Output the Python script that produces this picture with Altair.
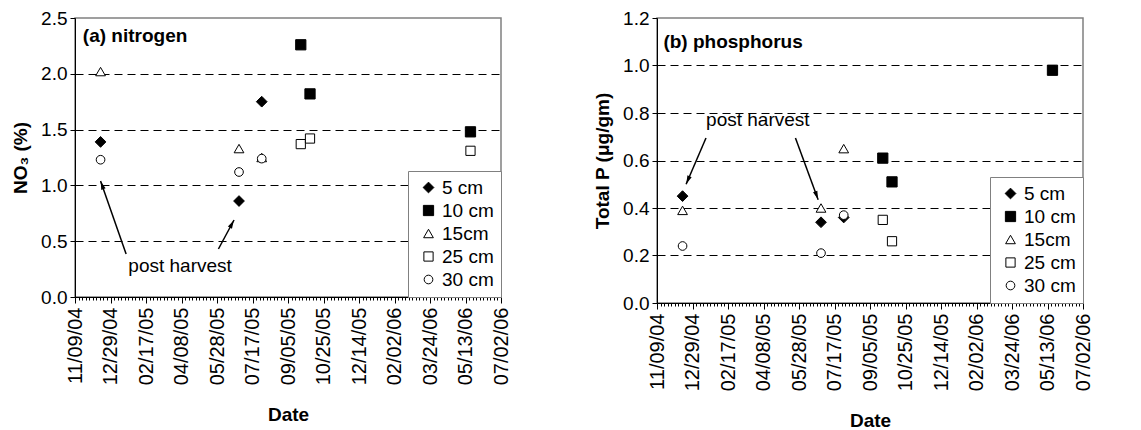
import math
import altair as alt
import pandas as pd

# ---------------- data ----------------
dates = ["2004-12-15", "2005-06-28", "2005-07-30", "2005-09-23", "2005-10-06", "2006-05-20"]
depths = ["5 cm", "10 cm", "15cm", "25 cm", "30 cm"]

n_5 = [1.39, 0.86, 1.75, None, None, None]
n_10 = [None, None, None, 2.26, 1.82, 1.48]
n_15 = [2.02, 1.33, 1.25, None, None, None]
n_25 = [None, None, None, 1.37, 1.42, 1.31]
n_30 = [1.23, 1.12, 1.24, None, None, None]

p_5 = [0.45, 0.34, 0.36, None, None, None]
p_10 = [None, None, None, 0.61, 0.51, 0.98]
p_15 = [0.39, 0.40, 0.65, None, None, None]
p_25 = [None, None, None, 0.35, 0.26, None]
p_30 = [0.24, 0.21, 0.37, None, None, None]

# annotations: text positions and arrows (start -> tip)
n_label = ("2004-11-20", 2.34, "(a) nitrogen")
n_note = ("2005-04-06", 0.28, "post harvest")
n_arrows = [("2005-01-20", 0.385, "2004-12-15", 1.04),
            ("2005-05-30", 0.43, "2005-06-21", 0.69)]
p_label = ("2004-11-18", 1.10, "(b) phosphorus")
p_note = ("2005-03-31", 0.772, "post harvest")
p_arrows = [("2005-01-17", 0.695, "2004-12-20", 0.50),
            ("2005-05-23", 0.695, "2005-06-24", 0.435)]

x_start = "2004-11-09"
x_end = "2006-07-02"
FONT = "Liberation Sans"
FS = 19
W = 426

start = pd.Timestamp(x_start)
end = pd.Timestamp(x_end)
n_days = (end - start).days
S_MS = int(start.value // 10**6)
major_vals = [S_MS + k * 50 * 86400000 for k in range(n_days // 50 + 1)]
minor_vals = [S_MS + k * 5 * 86400000 for k in range(n_days // 5 + 1)]
X_DOMAIN = [x_start + "T00:00:00Z", x_end + "T00:00:00Z"]


def long_df(series):
    rows = []
    for name, vals in zip(depths, series):
        for d, v in zip(dates, vals):
            if v is not None:
                rows.append({"date": d, "value": v, "depth": name})
    return pd.DataFrame(rows)


def legend():
    return alt.Legend(
        title=None,
        orient="bottom-right",
        offset=0,
        fillColor="white",
        strokeColor="#808080",
        padding=7,
        labelFontSize=FS,
        labelFont=FONT,
        labelColor="black",
        symbolStrokeWidth=1,
        rowPadding=3,
        labelOffset=4,
        symbolOffset=4,
    )


def panel(series, ytitle, ymax, ystep, height, label, note, arrows):
    df = long_df(series)
    pxd = W / n_days
    pxv = height / ymax

    xenc = alt.X(
        "date:T",
        title="Date",
        scale=alt.Scale(type="utc", domain=X_DOMAIN),
        axis=alt.Axis(
            values=major_vals,
            format="%m/%d/%y",
            labelAngle=-90,
            labelOverlap=False,
            labelFontSize=20,
            labelPadding=4,
            tickSize=6,
            grid=False,
            titlePadding=21,
            orient="bottom",
        ),
    )
    yenc = alt.Y(
        "value:Q",
        title=ytitle,
        scale=alt.Scale(domain=[0, ymax], nice=False),
        axis=alt.Axis(
            values=[round(i * ystep, 2) for i in range(int(round(ymax / ystep)) + 1)],
            format=".1f",
            grid=True,
            gridColor="black",
            gridDash=[8, 5],
            gridWidth=1,
            gridOpacity={"condition": {"test": f"datum.value >= {ymax} || datum.value == 0", "value": 0}, "value": 1},
            tickSize=5,
            labelPadding=3,
            titlePadding=10,
        ),
    )

    pts = alt.Chart(df).mark_point(filled=True, strokeWidth=1, opacity=1).encode(
        x=xenc,
        y=yenc,
        shape=alt.Shape(
            "depth:N",
            sort=depths,
            scale=alt.Scale(domain=depths, range=["diamond", "square", "triangle-up", "square", "circle"]),
            legend=legend(),
        ),
        fill=alt.Fill(
            "depth:N",
            sort=depths,
            scale=alt.Scale(domain=depths, range=["black", "black", "white", "white", "white"]),
            legend=legend(),
        ),
        stroke=alt.Stroke(
            "depth:N",
            sort=depths,
            scale=alt.Scale(domain=depths, range=["black"] * 5),
            legend=legend(),
        ),
        size=alt.Size(
            "depth:N",
            sort=depths,
            scale=alt.Scale(domain=depths, range=[115, 75, 90, 75, 58]),
            legend=legend(),
        ),
    )

    # arrows
    rows, heads = [], []
    for d0, v0, d1, v1 in arrows:
        t0, t1 = pd.Timestamp(d0), pd.Timestamp(d1)
        dx = (t1 - t0).total_seconds() / 86400 * pxd
        dy = -(v1 - v0) * pxv
        ang = math.degrees(math.atan2(dx, -dy)) % 360
        L = math.hypot(dx, dy)
        back = 4.5
        hx = -dx / L * back
        hy = -dy / L * back
        hdate = t1 + pd.Timedelta(days=hx / pxd)
        hval = v1 - hy / pxv
        rows.append({"date": d0, "value": v0, "date2": d1, "value2": v1})
        heads.append({"date": hdate.strftime("%Y-%m-%dT%H:%M:%S"), "value": hval, "angle": ang})
    rules = alt.Chart(pd.DataFrame(rows)).mark_rule(color="black", strokeWidth=1.5).encode(
        x=alt.X(
            "date:T",
            scale=alt.Scale(type="utc", domain=X_DOMAIN),
            axis=alt.Axis(
                values=minor_vals,
                labels=False,
                domain=False,
                grid=False,
                tickSize=3,
                title=None,
                orient="bottom",
            ),
        ),
        x2="date2:T",
        y="value:Q",
        y2="value2:Q",
    )
    arrowheads = alt.Chart(pd.DataFrame(heads)).mark_point(
        shape="M0,-1L0.55,1L-0.55,1Z", filled=True, color="black", size=70, opacity=1
    ).encode(
        x=alt.X("date:T", axis=None),
        y="value:Q",
        angle=alt.Angle("angle:Q", scale=None),
    )

    note_df = pd.DataFrame([{"date": note[0], "value": note[1], "text": note[2]}])
    note_txt = alt.Chart(note_df).mark_text(fontSize=FS, font=FONT, color="black").encode(
        x=alt.X("date:T", axis=None), y="value:Q", text="text:N"
    )
    lab_df = pd.DataFrame([{"date": label[0], "value": label[1], "text": label[2]}])
    lab_txt = alt.Chart(lab_df).mark_text(
        fontSize=FS, font=FONT, fontWeight="bold", align="left", color="black"
    ).encode(x=alt.X("date:T", axis=None), y="value:Q", text="text:N")

    return (
        alt.layer(pts, rules, arrowheads, note_txt, lab_txt)
        .resolve_axis(x="independent")
        .properties(width=W, height=height)
    )


left = panel([n_5, n_10, n_15, n_25, n_30], "NO₃ (%)", 2.5, 0.5, 279, n_label, n_note, n_arrows)
right = panel([p_5, p_10, p_15, p_25, p_30], "Total P (μg/gm)", 1.2, 0.2, 285, p_label, p_note, p_arrows)

chart = (
    alt.hconcat(left, right, spacing=80)
    .resolve_scale(shape="independent", fill="independent", stroke="independent", size="independent")
    .resolve_legend(shape="independent", fill="independent", stroke="independent", size="independent")
    .properties(padding={"left": 2, "top": 0, "right": 2, "bottom": 2})
    .configure(font=FONT)
    .configure_view(stroke="#808080", strokeWidth=1.5)
    .configure_axis(
        labelFont=FONT,
        labelFontSize=FS,
        labelColor="black",
        titleFont=FONT,
        titleFontSize=FS,
        titleFontWeight="bold",
        titleColor="black",
        domainColor="black",
        domainWidth=1,
        tickColor="black",
    )
)

chart.save("out.html", embed_options={"renderer": "svg", "actions": False})
